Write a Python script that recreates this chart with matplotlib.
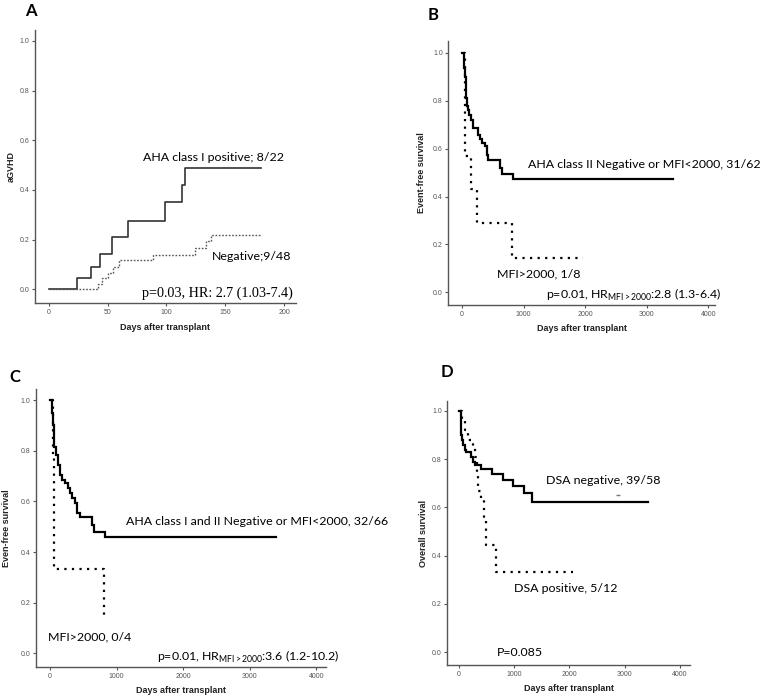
import matplotlib
matplotlib.use("Agg")
import matplotlib.pyplot as plt

# panel A: cumulative incidence of aGVHD
a_pos_days = [0, 24, 36, 44, 54, 67, 99, 113, 116]
a_pos_vals = [0, 0.044, 0.091, 0.142, 0.209, 0.275, 0.35, 0.422, 0.49]
a_pos_end = 180
a_neg_days = [0, 42, 45, 50, 55, 60, 89, 124, 134, 138]
a_neg_vals = [0, 0.02, 0.045, 0.068, 0.09, 0.117, 0.14, 0.165, 0.195, 0.217]
a_neg_end = 180

# panel B: event-free survival, class II
b_neg_days = [0, 20, 30, 40, 50, 58, 65, 72, 80, 95, 114, 146, 183, 265, 300, 330, 373, 400, 430, 617, 644, 833]
b_neg_vals = [1.0, 1.0, 0.97, 0.935, 0.90, 0.87, 0.84, 0.81, 0.78, 0.76, 0.74, 0.72, 0.687, 0.656, 0.64, 0.625, 0.61, 0.572, 0.554, 0.517, 0.496, 0.472]
b_neg_end = 3430
b_pos_days = [20, 50, 141, 238, 817]
b_pos_vals = [1.0, 0.57, 0.43, 0.29, 0.143]
b_pos_end = 1970

# panel C: event-free survival, class I and II
c_neg_days = [0, 25, 35, 45, 55, 65, 85, 115, 145, 175, 225, 265, 300, 335, 375, 400, 450, 635, 665, 825]
c_neg_vals = [1.0, 1.0, 0.95, 0.90, 0.86, 0.816, 0.783, 0.743, 0.704, 0.684, 0.671, 0.651, 0.632, 0.612, 0.592, 0.553, 0.537, 0.506, 0.48, 0.46]
c_neg_end = 3400
c_pos_days = [25, 40, 55, 810]
c_pos_vals = [1.0, 0.78, 0.334, 0.13]
c_pos_end = 810

# panel D: overall survival by DSA
d_neg_days = [0, 18, 30, 45, 60, 80, 110, 125, 210, 250, 290, 400, 600, 800, 980, 1170, 1320]
d_neg_vals = [1.0, 1.0, 0.95, 0.90, 0.88, 0.86, 0.84, 0.828, 0.81, 0.79, 0.777, 0.76, 0.74, 0.714, 0.69, 0.66, 0.624]
d_neg_end = 3420
d_pos_days = [25, 60, 108, 170, 250, 290, 320, 350, 400, 460, 490, 670]
d_pos_vals = [1.0, 0.96, 0.92, 0.88, 0.85, 0.81, 0.74, 0.67, 0.63, 0.55, 0.445, 0.331]
d_pos_end = 2070
d_censor_day = [2883]
d_censor_val = [0.652]

yticks = [0.0, 0.2, 0.4, 0.6, 0.8, 1.0]
ytick_labels = ["0.0", "0.2", "0.4", "0.6", "0.8", "1.0"]

LABEL_FONT = "Lato"
AX_FONT = "Liberation Sans"
AX_COL = "#555555"
FS = 8.9


def km(ax, days, vals, end, **kw):
    x = list(days) + [end]
    y = list(vals) + [vals[-1]]
    ax.step(x, y, where="post", **kw)


def setup(ax, xlim, ylim, xticks, ylabel, ylab_x, xlab_y):
    ax.set_xlim(xlim)
    ax.set_ylim(ylim)
    ax.set_xticks(xticks)
    ax.set_xticklabels([str(t) for t in xticks])
    ax.set_yticks(yticks)
    ax.set_yticklabels(ytick_labels)
    for s in ["top", "right"]:
        ax.spines[s].set_visible(False)
    for s in ["left", "bottom"]:
        ax.spines[s].set_color(AX_COL)
        ax.spines[s].set_linewidth(1.0)
    ax.tick_params(direction="out", length=2.5, width=0.8, color=AX_COL,
                   labelsize=5, labelcolor=AX_COL, pad=1.5)
    for lab in ax.get_xticklabels() + ax.get_yticklabels():
        lab.set_fontfamily(AX_FONT)
    ax.set_xlabel("Days after transplant", fontsize=6.5, fontweight="bold",
                  family=AX_FONT, color="#222222", va="center")
    ax.set_ylabel(ylabel, fontsize=6.5, fontweight="bold", family=AX_FONT,
                  color="#222222", va="center")
    ax.xaxis.set_label_coords(0.5, xlab_y)
    ax.yaxis.set_label_coords(ylab_x, 0.5)


def note(ax, x, y, s, **kw):
    kw.setdefault("family", LABEL_FONT)
    kw.setdefault("fontsize", FS)
    ax.text(x, y, s, transform=ax.transAxes, va="center", clip_on=False, **kw)


fig = plt.figure(figsize=(7.65, 7.0), dpi=100)

solid_kw = dict(color="black", lw=1.6, solid_joinstyle="miter")
dot_kw = dict(color="black", lw=1.6, dashes=(1, 2.4), dash_capstyle="butt")
hr_sub = r"$_{\mathregular{MFI>\!2000}}$"

# ---- A
axA = fig.add_axes([0.0458, 0.567, 0.341, 0.39])
km(axA, a_pos_days, a_pos_vals, a_pos_end, color="#333333", lw=1.2)
km(axA, a_neg_days, a_neg_vals, a_neg_end, color="#555555", lw=1.0, dashes=(1.2, 1.2))
setup(axA, (-11.6, 210), (-0.055, 1.043), [0, 50, 100, 150, 200], "aGVHD", -0.09, -0.088)
note(axA, 0.414, 0.535, "AHA class I positive; 8/22")
note(axA, 0.678, 0.172, "Negative;9/48")
note(axA, 0.41, 0.037, "p=0.03, HR: 2.7 (1.03-7.4)", family="Liberation Serif", fontsize=10.2)

# ---- B
axB = fig.add_axes([0.586, 0.564, 0.3486, 0.3776])
km(axB, b_neg_days, b_neg_vals, b_neg_end, **solid_kw)
km(axB, b_pos_days, b_pos_vals, b_pos_end, **dot_kw)
setup(axB, (-222, 4109), (-0.054, 1.05), [0, 1000, 2000, 3000, 4000],
      "Event-free survival", -0.1, -0.088)
note(axB, 0.299, 0.533, "AHA class II Negative or MFI<2000, 31/62")
note(axB, 0.183, 0.117, "MFI>2000, 1/8")
note(axB, 0.366, 0.038, "p=0.01, HR" + hr_sub + ":2.8 (1.3-6.4)")

# ---- C
axC = fig.add_axes([0.0467, 0.0467, 0.380, 0.397])
km(axC, c_neg_days, c_neg_vals, c_neg_end, **solid_kw)
km(axC, c_pos_days, c_pos_vals, c_pos_end, **dot_kw)
setup(axC, (-214, 4150), (-0.055, 1.042), [0, 1000, 2000, 3000, 4000],
      "Even-free survival", -0.1, -0.084)
note(axC, 0.31, 0.526, "AHA class I and II Negative or MFI<2000, 32/66")
note(axC, 0.042, 0.109, "MFI>2000, 0/4")
note(axC, 0.417, 0.037, "p=0.01, HR" + hr_sub + ":3.6 (1.2-10.2)")

# ---- D
axD = fig.add_axes([0.5847, 0.05, 0.317, 0.377])
km(axD, d_neg_days, d_neg_vals, d_neg_end, **solid_kw)
km(axD, d_pos_days, d_pos_vals, d_pos_end, **dot_kw)
axD.plot(d_censor_day, d_censor_val, marker="_", ms=3, color="#777777", lw=0)
setup(axD, (-212, 4181), (-0.053, 1.041), [0, 1000, 2000, 3000, 4000],
      "Overall survival", -0.1, -0.088)
note(axD, 0.407, 0.698, "DSA negative, 39/58")
note(axD, 0.275, 0.288, "DSA positive, 5/12")
note(axD, 0.205, 0.049, "P=0.085")

# panel letters
for lab, x, y in [("A", 31, 11), ("B", 433, 15), ("C", 15, 377), ("D", 447, 372)]:
    fig.text(x / 765, 1 - y / 700, lab, fontsize=12, fontweight="bold",
             family=LABEL_FONT, ha="center", va="center")

fig.savefig("out.png", dpi=100)
